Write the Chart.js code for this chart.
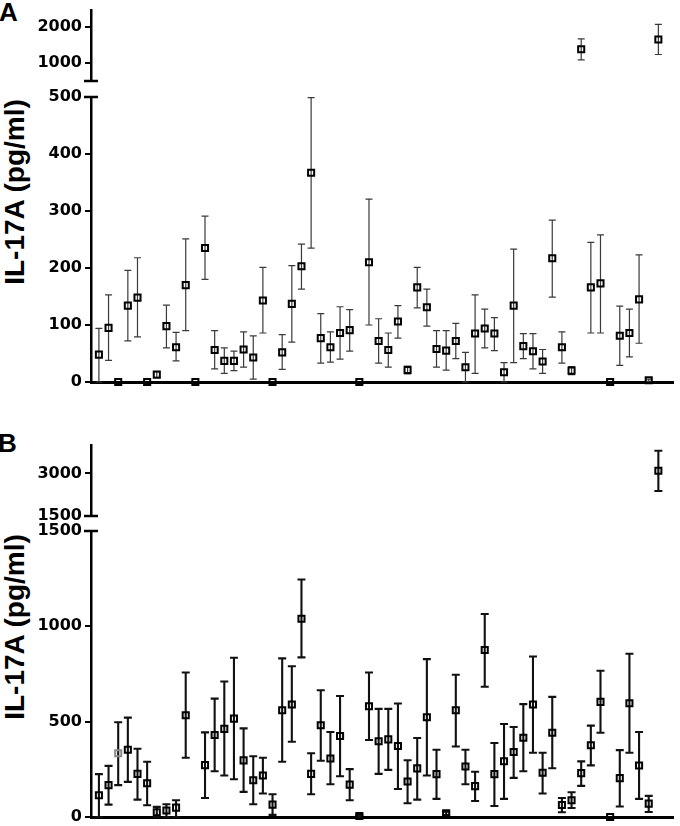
<!DOCTYPE html>
<html>
<head>
<meta charset="utf-8">
<script src="https://cdn.jsdelivr.net/npm/chart.js@4"></script>
<style>
html,body{margin:0;padding:0;background:#fff;overflow:hidden;}
#page{position:relative;width:680px;height:826px;}
canvas{position:absolute;left:0;}
.panel{position:absolute;font:bold 26px "Liberation Sans",Arial,sans-serif;line-height:26px;}
.ytitle{position:absolute;width:240px;height:28px;text-align:center;font:bold 28px "Liberation Sans",Arial,sans-serif;line-height:28px;transform:rotate(-90deg);white-space:nowrap;}
</style>
</head>
<body>
<div id="page">
  <div class="panel" style="left:-1px;top:-1px">A</div>
  <div class="panel" style="left:-2px;top:430px">B</div>
  <div class="ytitle" style="left:-104.7px;top:177.7px">IL-17A (pg/ml)</div>
  <div class="ytitle" style="left:-104.7px;top:612.7px">IL-17A (pg/ml)</div>
  <canvas id="a1" width="680" height="90" style="top:0"></canvas>
  <canvas id="a2" width="680" height="305" style="top:87px"></canvas>
  <canvas id="b1" width="680" height="90" style="top:435px"></canvas>
  <canvas id="b2" width="680" height="305" style="top:521px"></canvas>
</div>
<script>
// Panel A: mean and error bar ends per sample (pg/ml)
const meanA = [48, 95, 0, 134, 148, 0, 13, 98, 61, 170,
               0, 235, 56, 37, 37, 57, 43, 143, 0, 52,
               137, 203, 367, 77, 61, 86, 91, 0, 210, 72,
               56, 106, 21, 166, 131, 58, 55, 72, 26, 85,
               94, 85, 17, 134, 63, 54, 36, 217, 61, 20,
               1380, 166, 173, 0, 81, 86, 145, 3, 1650];
const lowA = [0, 38, null, 72, 79, null, 8, 60, 37, 90,
              null, 180, 23, 15, 20, 26, 5, 86, null, 22,
              70, 163, 235, 33, 35, 40, 54, null, 100, 33,
              26, 77, 14, 130, 98, 26, 21, 41, 0, 15,
              60, 55, 0, 34, 41, 23, 15, 149, 33, 13,
              1083, 86, 86, null, 29, 44, 68, 1, 1233];
const highA = [94, 153, null, 196, 218, null, 18, 135, 87, 251,
               null, 291, 90, 60, 54, 88, 81, 201, null, 83,
               204, 242, 499, 120, 88, 132, 127, null, 321, 111,
               86, 134, 28, 201, 163, 90, 90, 103, 52, 153,
               128, 113, 34, 233, 85, 85, 57, 284, 88, 27,
               1667, 245, 258, null, 133, 128, 223, 5, 2067];

// Panel B
const meanB = [114, 167, 334, 353, 226, 177, 25, 34, 49, 534,
               null, 272, 430, 462, 516, 297, 193, 218, 65, 560,
               590, 1040, 226, 481, 307, 425, 170, 5, 581, 397,
               407, 372, 186, 255, 523, 225, 19, 560, 265, 162,
               876, 225, 292, 341, 416, 590, 232, 442, 63, 88,
               230, 376, 604, 0, 204, 597, 270, 70, 3091];
const lowB = [0, 65, 167, 184, 91, 62, 0, 0, 0, 311,
              null, 100, 240, 218, 198, 132, 67, 123, 11, 290,
              395, 837, 119, 295, 172, 214, 88, 0, 404, 226,
              247, 147, 72, 91, 218, 95, 10, 370, 172, 84,
              683, 58, 95, 205, 240, 337, 123, 256, 25, 47,
              163, 271, 442, null, 55, 337, 95, 26, 2378];
const highB = [225, 268, 497, 521, 358, 290, 53, 67, 88, 758,
               null, 444, 621, 711, 835, 465, 319, 311, 119, 832,
               791, 1246, 334, 665, 446, 635, 251, 10, 758, 567,
               567, 595, 298, 414, 828, 353, 28, 746, 353, 237,
               1065, 388, 488, 472, 592, 842, 337, 630, 100, 130,
               292, 479, 767, null, 351, 856, 446, 111, 3795];

// broken y axes: upper and lower segments
const ticksA1 = [500, 1000, 2000];
const labelsA1 = ['', '1000', '2000'];
const ticksA2 = [0, 100, 200, 300, 400, 500];
const labelsA2 = ['0', '100', '200', '300', '400', '500'];
const ticksB1 = [1500, 3000];
const labelsB1 = ['1500', '3000'];
const ticksB2 = [0, 500, 1000, 1500];
const labelsB2 = ['0', '500', '1000', '1500'];

function points(mean, low, high, keep) {
    return mean.map((v, i) => ({x: i + 1, y: v, lo: low[i], hi: high[i]}))
               .filter(p => p.y !== null && keep(p.y));
}

const errorBars = {
    id: 'errorBars',
    beforeDatasetsDraw(chart, args, opts) {
        const ctx = chart.ctx, y = chart.scales.y;
        const data = chart.data.datasets[0].data;
        ctx.save();
        ctx.strokeStyle = opts.color;
        ctx.lineWidth = opts.width;
        chart.getDatasetMeta(0).data.forEach((pt, i) => {
            const d = data[i];
            if (d.lo == null || d.hi == null) return;
            const yl = y.getPixelForValue(d.lo), yh = y.getPixelForValue(d.hi);
            ctx.beginPath();
            ctx.moveTo(pt.x, yl); ctx.lineTo(pt.x, yh);
            ctx.moveTo(pt.x - opts.cap, yh); ctx.lineTo(pt.x + opts.cap, yh);
            ctx.moveTo(pt.x - opts.cap, yl); ctx.lineTo(pt.x + opts.cap, yl);
            ctx.stroke();
        });
        ctx.restore();
    }
};

// little cross bar where the axis is broken
const breakCap = {
    id: 'breakCap',
    afterDraw(chart, args, opts) {
        const {ctx, chartArea} = chart;
        const yy = opts.edge === 'top' ? chartArea.top : chartArea.bottom;
        ctx.save();
        ctx.strokeStyle = '#000';
        ctx.lineWidth = 2.5;
        ctx.beginPath();
        ctx.moveTo(chartArea.left - 7, yy);
        ctx.lineTo(chartArea.left + 7, yy);
        ctx.stroke();
        ctx.restore();
    }
};

function drawPart(id, mean, low, high, cfg) {
    new Chart(document.getElementById(id), {
        type: 'scatter',
        data: {
            datasets: [{
                data: points(mean, low, high, cfg.keep),
                pointStyle: 'rect',
                pointRadius: 4.3,
                pointBorderWidth: 2,
                pointBackgroundColor: 'rgba(0,0,0,0)',
                pointBorderColor: cfg.pointColor || '#000',
                clip: false
            }]
        },
        options: {
            responsive: false,
            animation: false,
            events: [],
            layout: {padding: {top: cfg.padTop, bottom: cfg.padBottom, left: 0, right: 0}},
            plugins: {
                legend: {display: false},
                tooltip: {enabled: false},
                errorBars: {color: cfg.barColor, width: cfg.barWidth, cap: cfg.cap},
                breakCap: {edge: cfg.edge}
            },
            scales: {
                x: {
                    type: 'linear', min: 0.18, max: 60.59, display: cfg.showX,
                    grid: {display: false}, ticks: {display: false},
                    border: {display: true, width: 3, color: '#000'},
                    afterFit: s => { s.height = 0; }
                },
                y: {
                    min: cfg.min, max: cfg.max,
                    afterBuildTicks: s => { s.ticks = cfg.ticks.map(v => ({value: v})); },
                    afterFit: s => { s.width = 91; s.paddingTop = 0; s.paddingBottom = 0; },
                    grid: {drawOnChartArea: false, drawTicks: true, tickLength: 6, lineWidth: 2, color: '#000'},
                    border: {display: true, width: 2.5, color: '#000'},
                    ticks: {
                        autoSkip: false, padding: 3, color: '#000',
                        font: {family: 'DejaVu Sans', weight: 'bold', size: 16},
                        callback: (v, i) => cfg.labels[i]
                    }
                }
            }
        },
        plugins: [errorBars, breakCap]
    });
}

const barsA = {barColor: '#3a3a3a', barWidth: 1.2, cap: 3.5};
const barsB = {barColor: '#111', barWidth: 2.1, cap: 4};

drawPart('a1', meanA, lowA, highA, Object.assign({
    keep: v => v > 500, min: 500, max: 2465, ticks: ticksA1, labels: labelsA1,
    showX: false, padTop: 10, padBottom: 9, edge: 'bottom'}, barsA));
drawPart('a2', meanA, lowA, highA, Object.assign({
    keep: v => v <= 500, min: 0, max: 500, ticks: ticksA2, labels: labelsA2,
    showX: true, padTop: 10, padBottom: 10, edge: 'top'}, barsA));
drawPart('b1', meanB, lowB, highB, Object.assign({
    keep: v => v > 1500, min: 1500, max: 4000, ticks: ticksB1, labels: labelsB1,
    showX: false, padTop: 10, padBottom: 9, edge: 'bottom'}, barsB));
drawPart('b2', meanB, lowB, highB, Object.assign({
    keep: v => v <= 1500, min: 0, max: 1500, ticks: ticksB2, labels: labelsB2,
    showX: true, padTop: 10, padBottom: 9, edge: 'top',
    pointColor: c => (c.raw && c.raw.x === 3 ? '#8a8a8a' : '#000')}, barsB));
</script>
</body>
</html>
